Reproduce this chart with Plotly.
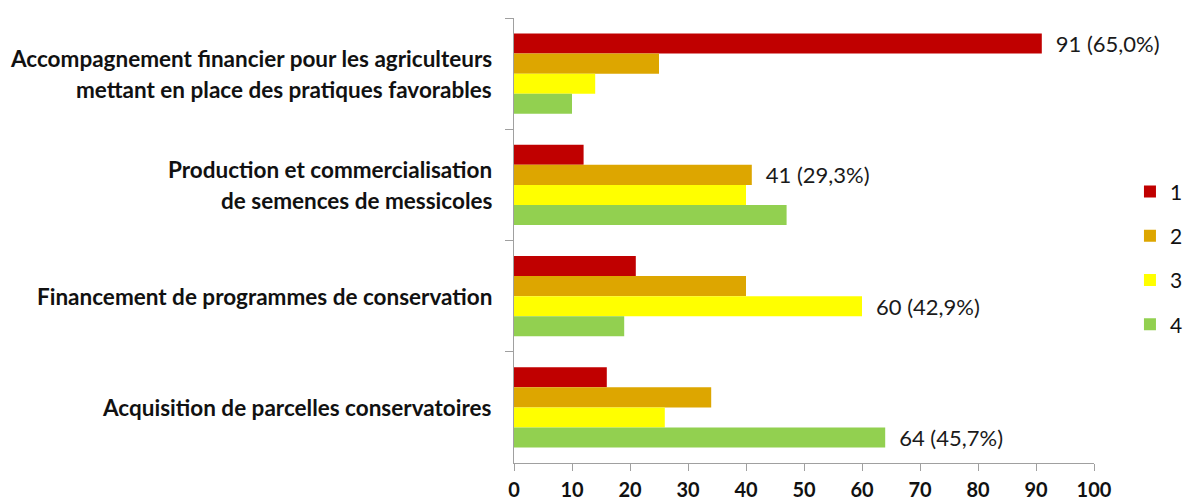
import plotly.graph_objects as go

categories = [
    "Accompagnement financier pour les agriculteurs\nmettant en place des pratiques favorables",
    "Production et commercialisation\nde semences de messicoles",
    "Financement de programmes de conservation",
    "Acquisition de parcelles conservatoires",
]
series_names = ["1", "2", "3", "4"]
values_1 = [91, 12, 21, 16]
values_2 = [25, 41, 40, 34]
values_3 = [14, 40, 60, 26]
values_4 = [10, 47, 19, 64]
# label shown for each category, and the series (index) whose bar carries it
bar_labels = ["91 (65,0%)", "41 (29,3%)", "60 (42,9%)", "64 (45,7%)"]
label_series = [0, 1, 2, 3]
x_ticks = [0, 10, 20, 30, 40, 50, 60, 70, 80, 90, 100]

colors = ["#C00000", "#DDA600", "#FFFF00", "#92D050"]
all_values = [values_1, values_2, values_3, values_4]
cat_keys = [c.replace("\n", " ") for c in categories]

FONT = "Lato"
fig = go.Figure()
for si, (name, vals, col) in enumerate(zip(series_names, all_values, colors)):
    texts = ["\u2002" + bar_labels[ci] if label_series[ci] == si else ""
             for ci in range(len(categories))]
    fig.add_trace(go.Bar(
        name=name, orientation="h", x=vals, y=cat_keys,
        marker=dict(color=col, line=dict(width=0)),
        text=texts, textposition="outside", cliponaxis=False,
        constraintext="none",
        outsidetextfont=dict(family=FONT, size=22, color="#1a1a1a"),
        legendgroup=name,
    ))

annotations = []
for key, cat in zip(cat_keys, categories):
    lines = cat.split("\n")
    n = len(lines)
    for li, line in enumerate(lines):
        annotations.append(dict(
            x=0, xref="paper", y=key, yref="y", xanchor="right", yanchor="middle",
            xshift=-20, yshift=(n - 1) * 15.5 - li * 31, text=line, showarrow=False,
            font=dict(family=FONT, size=22.5, color="#111111", weight="bold"),
        ))

fig.update_layout(
    width=1184, height=501,
    margin=dict(l=514, r=90, t=18, b=38, autoexpand=False),
    paper_bgcolor="white", plot_bgcolor="white",
    barmode="group", bargap=0.28, bargroupgap=0,
    font=dict(family=FONT, size=20, color="#111111"),
    legend=dict(x=1.062, xanchor="left", y=0.46, yanchor="middle",
                traceorder="grouped", tracegroupgap=14,
                font=dict(family=FONT, size=21, color="#111111")),
    annotations=annotations,
    showlegend=True,
)
fig.update_xaxes(range=[0, 100], tickvals=x_ticks, ticks="outside", ticklen=7,
                 tickcolor="#A0A0A0", showline=True, linecolor="#A0A0A0", linewidth=1,
                 showgrid=False, zeroline=False, ticklabelstandoff=2, automargin=False,
                 tickfont=dict(family=FONT, size=20, color="#111111", weight="bold"))
fig.update_yaxes(type="category", range=[3.5, -0.5], categoryorder="array",
                 categoryarray=cat_keys, showticklabels=False, ticks="outside",
                 ticklen=8, tickcolor="#A0A0A0", tickson="boundaries", automargin=False,
                 showline=True, linecolor="#A0A0A0", linewidth=1, showgrid=False)

fig.write_html("out.html", config={"displayModeBar": False},
               post_script="document.body.style.margin='0';document.body.style.overflow='hidden';")
